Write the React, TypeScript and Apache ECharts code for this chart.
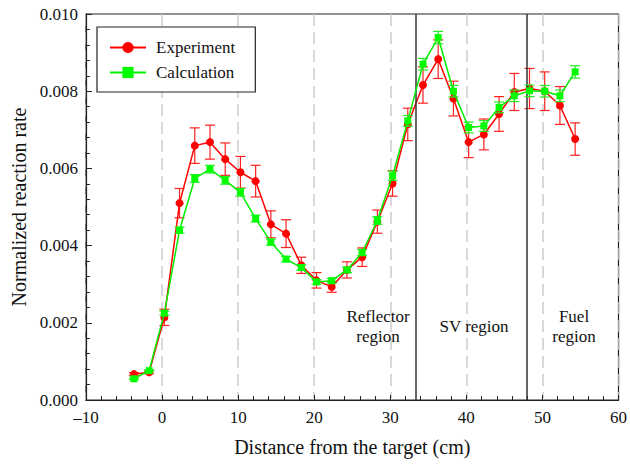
import React, { useEffect, useRef } from "react";
import * as echarts from "echarts";

const positions = [-3.7, -1.7, 0.3, 2.3, 4.3, 6.3, 8.3, 10.3, 12.3, 14.3, 16.3, 18.3, 20.3, 22.3, 24.3, 26.3, 28.3, 30.3, 32.3, 34.3, 36.3, 38.3, 40.3, 42.3, 44.3, 46.3, 48.3, 50.3, 52.3, 54.3];
const experiment = [0.00067, 0.00072, 0.00214, 0.0051, 0.00659, 0.00668, 0.00624, 0.0059, 0.00567, 0.00455, 0.00431, 0.00349, 0.0031, 0.00293, 0.00337, 0.0037, 0.00462, 0.00561, 0.00714, 0.00816, 0.00883, 0.00781, 0.00668, 0.00688, 0.00741, 0.00798, 0.00807, 0.008, 0.00763, 0.00676];
const experimentErr = [0.00004, 0.00004, 0.00021, 0.00038, 0.00046, 0.00044, 0.00042, 0.00041, 0.00041, 0.00035, 0.00036, 0.00021, 0.0002, 0.00014, 0.00021, 0.00024, 0.0003, 0.00033, 0.00042, 0.00047, 0.0005, 0.00045, 0.0004, 0.0004, 0.00045, 0.00048, 0.00052, 0.0005, 0.00049, 0.00042];
const calculation = [0.00055, 0.00076, 0.00225, 0.0044, 0.00574, 0.00598, 0.00569, 0.00538, 0.0047, 0.00409, 0.00365, 0.00343, 0.00306, 0.00309, 0.00337, 0.00382, 0.00465, 0.00581, 0.00723, 0.0087, 0.00939, 0.008, 0.00706, 0.0071, 0.00758, 0.00788, 0.00801, 0.008, 0.00788, 0.0085];
const calculationErr = [0.00002, 0.00002, 0.00005, 0.00008, 0.0001, 0.0001, 0.0001, 0.0001, 0.00009, 0.00008, 0.00007, 0.00007, 0.00006, 0.00006, 0.00007, 0.00008, 0.0001, 0.00012, 0.00014, 0.00015, 0.00016, 0.00015, 0.00014, 0.00014, 0.00014, 0.00015, 0.00015, 0.00015, 0.00015, 0.00016];
const regionBoundaries = [33.3, 48.0];
const xTicks = { min: -10, max: 60, interval: 10 };
const yTicks = { min: 0, max: 0.01, interval: 0.002 };

const FONT = "Liberation Serif";

function errorRender(color: string, capHalf: number) {
  return (params: any, api: any) => {
    const x = api.value(0);
    const y = api.value(1);
    const e = api.value(2);
    const top = api.coord([x, y + e]);
    const bot = api.coord([x, y - e]);
    const style = { stroke: color, lineWidth: 1.2 };
    return {
      type: "group",
      children: [
        { type: "line", shape: { x1: top[0], y1: top[1], x2: bot[0], y2: bot[1] }, style },
        { type: "line", shape: { x1: top[0] - capHalf, y1: top[1], x2: top[0] + capHalf, y2: top[1] }, style },
        { type: "line", shape: { x1: bot[0] - capHalf, y1: bot[1], x2: bot[0] + capHalf, y2: bot[1] }, style },
      ],
    };
  };
}

export default function App() {
  const ref = useRef<HTMLDivElement>(null);
  useEffect(() => {
    if (!ref.current) return;
    const chart = echarts.init(ref.current, null, { renderer: "svg" });
    const expData = positions.map((x, i) => [x, experiment[i]]);
    const calcData = positions.map((x, i) => [x, calculation[i]]);
    const expErrData = positions.map((x, i) => [x, experiment[i], experimentErr[i]]);
    const calcErrData = positions.map((x, i) => [x, calculation[i], calculationErr[i]]);
    const regionText = (text: string, x: number, y: number) => ({
      type: "text",
      x,
      y,
      style: {
        text,
        fill: "#111",
        fontFamily: FONT,
        fontSize: 17,
        align: "center",
        verticalAlign: "middle",
        lineHeight: 20,
      },
      z: 50,
    });
    chart.setOption({
      animation: false,
      backgroundColor: "#fff",
      textStyle: { fontFamily: FONT },
      grid: { left: 86, right: 11, top: 14, bottom: 67, show: true, borderColor: "#222", borderWidth: 1.2 },
      legend: {
        left: 97,
        top: 27,
        orient: "vertical",
        backgroundColor: "#fff",
        borderColor: "#222",
        borderWidth: 1.2,
        padding: [12, 20, 11, 12],
        itemWidth: 36,
        itemHeight: 14,
        itemGap: 8,
        textStyle: { fontFamily: FONT, fontSize: 17, color: "#111", padding: [0, 0, 0, 5] },
        data: ["Experiment", "Calculation"],
      },
      xAxis: {
        type: "value",
        min: xTicks.min,
        max: xTicks.max,
        interval: xTicks.interval,
        name: "Distance from the target (cm)",
        nameLocation: "middle",
        nameGap: 37,
        nameTextStyle: { fontFamily: FONT, fontSize: 20, color: "#111" },
        axisLine: { show: true, onZero: false, lineStyle: { color: "#222", width: 1.2 } },
        axisTick: { show: true, inside: true, length: 5, lineStyle: { color: "#222" } },
        minorTick: { show: true, splitNumber: 5, length: 4, lineStyle: { color: "#222" } },
        axisLabel: {
          fontFamily: FONT,
          fontSize: 17,
          color: "#111",
          margin: 9,
          formatter: (v: number) => (v < 0 ? "\u2013" + Math.abs(v) : String(v)),
        },
        splitLine: { show: true, lineStyle: { color: "#cccccc", type: [12, 6], width: 1.5 } },
      },
      yAxis: {
        type: "value",
        min: yTicks.min,
        max: yTicks.max,
        interval: yTicks.interval,
        name: "Normalized reaction rate",
        nameLocation: "middle",
        nameGap: 56,
        nameTextStyle: { fontFamily: FONT, fontSize: 20, color: "#111" },
        axisLine: { show: true, onZero: false, lineStyle: { color: "#222", width: 1.2 } },
        axisTick: { show: true, inside: true, length: 6, lineStyle: { color: "#222" } },
        minorTick: { show: true, splitNumber: 5, length: 4, lineStyle: { color: "#222" } },
        axisLabel: {
          fontFamily: FONT,
          fontSize: 17,
          color: "#111",
          margin: 8,
          formatter: (v: number) => v.toFixed(3),
        },
        splitLine: { show: false },
      },
      graphic: [
        regionText("Reflector\nregion", 378, 326),
        regionText("SV region", 474, 326),
        regionText("Fuel\nregion", 574, 326),
      ],
      series: [
        {
          type: "custom",
          name: "expErr",
          renderItem: errorRender("#ff2020", 5),
          data: expErrData,
          encode: { x: 0, y: 1 },
          z: 3,
          silent: true,
        },
        {
          type: "line",
          name: "Experiment",
          data: expData,
          color: "#ff0000",
          symbol: "circle",
          symbolSize: 8,
          lineStyle: { color: "#ff0000", width: 1.5 },
          itemStyle: { color: "#ff0000" },
          z: 4,
          markLine: {
            silent: true,
            symbol: "none",
            label: { show: false },
            lineStyle: { color: "#333", type: "solid", width: 1.5 },
            data: regionBoundaries.map((b) => ({ xAxis: b })),
          },
        },
        {
          type: "custom",
          name: "calcErr",
          renderItem: errorRender("#22ee22", 5),
          data: calcErrData,
          encode: { x: 0, y: 1 },
          z: 5,
          silent: true,
        },
        {
          type: "line",
          name: "Calculation",
          data: calcData,
          color: "#00ff00",
          symbol: "rect",
          symbolSize: 7,
          lineStyle: { color: "#00ee00", width: 1.5 },
          itemStyle: { color: "#00ff00" },
          z: 6,
        },
      ],
    });
    return () => chart.dispose();
  }, []);
  return <div ref={ref} style={{ position: "fixed", left: 0, top: 0, width: 630, height: 467 }} />;
}
